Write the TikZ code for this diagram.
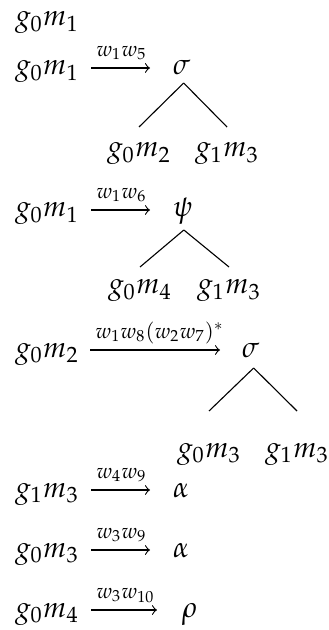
\documentclass[tikz,border=0pt]{standalone}
\usepackage{mathpazo}
\begin{document}
\begin{tikzpicture}[x=0.36pt,y=-0.36pt,
  term/.style={inner sep=0pt, outer sep=0pt, anchor=base west, font=\fontsize{10.5}{13}\selectfont},
  arr/.style={->, line width=0.4pt},
  tree/.style={line width=0.4pt},
  lbl/.style={inner sep=0pt, anchor=base west, xshift=1.8pt, yshift=4.3pt, font=\fontsize{7.6}{9}\selectfont}]
\useasboundingbox (0,0) rectangle (328,630);
% row 1
\node[term] (t0) at (15,26) {$g_0m_1$};
% row 2
\node[term] (a1) at (15,75) {$g_0m_1$};
\node[term] (b1) at (173,75) {$\sigma$};
\node[term] (c11) at (107,157) {$g_0m_2$};
\node[term] (c12) at (195,157) {$g_1m_3$};
\draw[arr] ([shift={(12,-7)}]a1.base east) -- node[lbl,pos=0] {$w_1w_5$} ([shift={(-23,-7)}]b1.base west);
\draw[tree] ([shift={(2,8)}]b1.base) -- ([shift={(0,-30)}]c11.base);
\draw[tree] ([shift={(2,8)}]b1.base) -- ([shift={(0,-30)}]c12.base);
% row 3
\node[term] (a2) at (15,217) {$g_0m_1$};
\node[term] (b2) at (173,217) {$\psi$};
\node[term] (c21) at (108,294) {$g_0m_4$};
\node[term] (c22) at (197,294) {$g_1m_3$};
\draw[arr] ([shift={(12,-7)}]a2.base east) -- node[lbl,pos=0] {$w_1w_6$} ([shift={(-23,-7)}]b2.base west);
\draw[tree] ([shift={(1,13)}]b2.base) -- ([shift={(0,-27)}]c21.base);
\draw[tree] ([shift={(1,13)}]b2.base) -- ([shift={(0,-27)}]c22.base);
% row 4
\node[term] (a3) at (15,357) {$g_0m_2$};
\node[term] (b3) at (242,357) {$\sigma$};
\node[term] (c31) at (177,457) {$g_0m_3$};
\node[term] (c32) at (265,457) {$g_1m_3$};
\draw[arr] ([shift={(11,-7)}]a3.base east) -- node[lbl,pos=0] {$w_1w_8(w_2w_7)^*$} ([shift={(-22,-7)}]b3.base west);
\draw[tree] ([shift={(3,11)}]b3.base) -- ([shift={(0,-46)}]c31.base);
\draw[tree] ([shift={(3,11)}]b3.base) -- ([shift={(0,-46)}]c32.base);
% row 5
\node[term] (a4) at (15,497) {$g_1m_3$};
\node[term] (b4) at (173,497) {$\alpha$};
\draw[arr] ([shift={(12,-7)}]a4.base east) -- node[lbl,pos=0] {$w_4w_9$} ([shift={(-23,-7)}]b4.base west);
% row 6
\node[term] (a5) at (15,557) {$g_0m_3$};
\node[term] (b5) at (173,557) {$\alpha$};
\draw[arr] ([shift={(12,-7)}]a5.base east) -- node[lbl,pos=0] {$w_3w_9$} ([shift={(-23,-7)}]b5.base west);
% row 7
\node[term] (a6) at (15,617) {$g_0m_4$};
\node[term] (b6) at (182,617) {$\rho$};
\draw[arr] ([shift={(12,-7)}]a6.base east) -- node[lbl,pos=0] {$w_3w_{10}$} ([shift={(-25,-7)}]b6.base west);
\end{tikzpicture}
\end{document}
